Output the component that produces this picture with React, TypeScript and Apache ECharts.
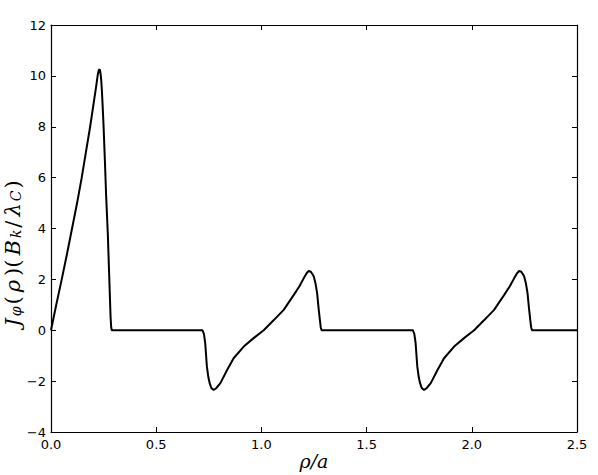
import React, { useEffect, useRef } from "react";
import * as echarts from "echarts";

// rho/a positions and J_phi values
const rhoPeak1 = [0, 0.025, 0.051, 0.076, 0.1, 0.124, 0.146, 0.166, 0.186, 0.204, 0.214, 0.219, 0.223, 0.227, 0.23, 0.233, 0.236, 0.239, 0.242, 0.245, 0.25, 0.256, 0.262, 0.27, 0.276, 0.28, 0.283, 0.286, 0.289];
const jPeak1 = [0, 1.0, 2.0, 3.0, 4.0, 5.0, 6.0, 7.0, 8.0, 9.0, 9.55, 9.85, 10.08, 10.22, 10.26, 10.22, 10.06, 9.8, 9.4, 8.9, 8.0, 6.7, 5.3, 3.8, 2.3, 1.3, 0.55, 0.12, 0];

const rhoCycle1 = [0.72, 0.722, 0.727, 0.733, 0.741, 0.748, 0.754, 0.762, 0.773, 0.785, 0.805, 0.837, 0.868, 0.916, 0.963, 1.011, 1.059, 1.106, 1.154, 1.18, 1.201, 1.215, 1.225, 1.235, 1.243, 1.249, 1.257, 1.265, 1.272, 1.278, 1.282, 1.286];
const jCycle1 = [0, 0, -0.15, -0.51, -1.43, -1.85, -2.08, -2.27, -2.35, -2.28, -2.08, -1.56, -1.1, -0.64, -0.31, 0.0, 0.4, 0.8, 1.39, 1.72, 2.04, 2.24, 2.33, 2.3, 2.2, 2.11, 1.85, 1.45, 0.85, 0.4, 0.12, 0];

const rhoCycle2 = [1.72, 1.722, 1.727, 1.733, 1.741, 1.748, 1.754, 1.762, 1.773, 1.785, 1.805, 1.837, 1.868, 1.916, 1.963, 2.011, 2.059, 2.106, 2.154, 2.18, 2.201, 2.215, 2.225, 2.235, 2.243, 2.249, 2.257, 2.265, 2.272, 2.278, 2.282, 2.286];
const jCycle2 = [0, 0, -0.15, -0.51, -1.43, -1.85, -2.08, -2.27, -2.35, -2.28, -2.08, -1.56, -1.1, -0.64, -0.31, 0.0, 0.4, 0.8, 1.39, 1.72, 2.04, 2.24, 2.33, 2.3, 2.2, 2.11, 1.85, 1.45, 0.85, 0.4, 0.12, 0];

const rhoTail = [2.5];
const jTail = [0];

const xTicks = { min: 0, max: 2.5, interval: 0.5 };
const yTicks = { min: -4, max: 12, interval: 2 };

const fmtX = (v: number) => v.toFixed(1);
const fmtY = (v: number) => (v < 0 ? "\u2212" + Math.abs(v) : String(v));

export default function App() {
  const ref = useRef<HTMLDivElement>(null);
  useEffect(() => {
    if (!ref.current) return;
    const chart = echarts.init(ref.current, null, { renderer: "svg" });
    const xs = [...rhoPeak1, ...rhoCycle1, ...rhoCycle2, ...rhoTail];
    const ys = [...jPeak1, ...jCycle1, ...jCycle2, ...jTail];
    const data = xs.map((x, i) => [x, ys[i]]);
    const labelFont = { fontFamily: "DejaVu Sans", fontSize: 13, color: "#000" };
    const tick = { show: true, inside: true, length: 5, lineStyle: { color: "#000", width: 1 } };
    const axLine = { show: true, onZero: false, lineStyle: { color: "#000", width: 1.2 } };
    const serif = "DejaVu Serif";
    chart.setOption({
      animation: false,
      backgroundColor: "#fff",
      grid: { left: 51, top: 25, right: 21, bottom: 43, containLabel: false, outerBoundsMode: "none" },
      xAxis: [
        {
          type: "value",
          ...xTicks,
          position: "bottom",
          axisLine: axLine,
          axisTick: tick,
          splitLine: { show: false },
          axisLabel: { ...labelFont, margin: 6, formatter: fmtX, showMaxLabel: true, showMinLabel: true },
          name: "\u03c1/a",
          nameLocation: "middle",
          nameGap: 19,
          nameMoveOverlap: false,
          nameTextStyle: { fontFamily: serif, fontStyle: "italic", fontSize: 19, color: "#000" },
        },
        {
          type: "value",
          ...xTicks,
          position: "top",
          axisLine: axLine,
          axisTick: tick,
          splitLine: { show: false },
          axisLabel: { show: false },
        },
      ],
      yAxis: [
        {
          type: "value",
          ...yTicks,
          position: "left",
          axisLine: axLine,
          axisTick: tick,
          splitLine: { show: false },
          axisLabel: { ...labelFont, margin: 5, formatter: fmtY, showMaxLabel: true, showMinLabel: true },
          name: "{i|J}{s|\u03c6}{n|(}{i|\u03c1}{n|)(}{i|B}{s|k}{n|/}{i|\u03bb}{s|C}{n|)}",
          nameLocation: "middle",
          nameRotate: 90,
          nameGap: 28,
          nameMoveOverlap: false,
          nameTextStyle: {
            color: "#000",
            padding: [0, 50, 0, 0],
            rich: {
              i: { fontFamily: serif, fontStyle: "italic", fontSize: 21, lineHeight: 20, verticalAlign: "middle", color: "#000", padding: [0, 2] },
              n: { fontFamily: serif, fontSize: 21, lineHeight: 20, verticalAlign: "middle", color: "#000", padding: [0, 2] },
              s: { fontFamily: serif, fontStyle: "italic", fontSize: 14, lineHeight: 12, verticalAlign: "bottom", color: "#000" },
            },
          },
        },
        {
          type: "value",
          ...yTicks,
          position: "right",
          axisLine: axLine,
          axisTick: tick,
          splitLine: { show: false },
          axisLabel: { show: false },
        },
      ],
      series: [
        {
          type: "line",
          data,
          showSymbol: false,
          smooth: false,
          lineStyle: { color: "#000", width: 2 },
          xAxisIndex: 0,
          yAxisIndex: 0,
        },
      ],
    });
    return () => chart.dispose();
  }, []);
  return <div ref={ref} style={{ width: 598, height: 475, position: "absolute", left: 0, top: 0 }} />;
}
